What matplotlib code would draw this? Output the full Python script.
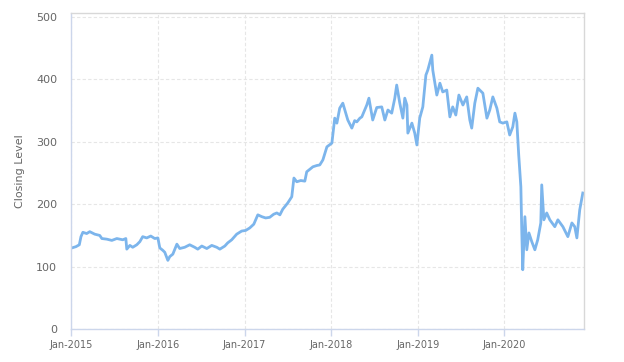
import pandas as pd
import matplotlib
matplotlib.use('Agg')
import matplotlib.pyplot as plt
import matplotlib.dates as mdates

plt.rcParams['font.family'] = ['DejaVu Sans']

# 数据 (从图上读取的收盘价)
dates = [
    '2015-01-05', '2015-01-22', '2015-02-05', '2015-02-12', '2015-02-20', '2015-03-08',
    '2015-03-21', '2015-04-11', '2015-05-02', '2015-05-11', '2015-06-01', '2015-06-22',
    '2015-07-13', '2015-08-07', '2015-08-20', '2015-08-24', '2015-09-06', '2015-09-18',
    '2015-10-05', '2015-10-18', '2015-10-30', '2015-11-16', '2015-12-03', '2015-12-20',
    '2016-01-02', '2016-01-10', '2016-01-23', '2016-01-31', '2016-02-13', '2016-02-21',
    '2016-03-05', '2016-03-22', '2016-04-03', '2016-04-24', '2016-05-15', '2016-06-05',
    '2016-06-18', '2016-07-05', '2016-07-26', '2016-08-16', '2016-09-06', '2016-09-19',
    '2016-10-10', '2016-10-22', '2016-11-08', '2016-11-29', '2016-12-20', '2017-01-06',
    '2017-01-23', '2017-02-09', '2017-02-26', '2017-03-15', '2017-03-31', '2017-04-17',
    '2017-05-04', '2017-05-17', '2017-05-30', '2017-06-11', '2017-07-02', '2017-07-19',
    '2017-07-28', '2017-08-09', '2017-08-26', '2017-09-12', '2017-09-20', '2017-10-03',
    '2017-10-16', '2017-11-01', '2017-11-14', '2017-11-27', '2017-12-14', '2018-01-04',
    '2018-01-16', '2018-01-25', '2018-02-06', '2018-02-19', '2018-03-04', '2018-03-12',
    '2018-03-29', '2018-04-10', '2018-04-19', '2018-05-02', '2018-05-10', '2018-05-23',
    '2018-05-31', '2018-06-09', '2018-06-17', '2018-06-25', '2018-07-12', '2018-08-02',
    '2018-08-15', '2018-08-28', '2018-09-13', '2018-09-26', '2018-10-04', '2018-10-17',
    '2018-10-30', '2018-11-07', '2018-11-16', '2018-11-20', '2018-12-07', '2018-12-19',
    '2018-12-28', '2019-01-09', '2019-01-22', '2019-02-04', '2019-02-12', '2019-03-01',
    '2019-03-05', '2019-03-22', '2019-04-04', '2019-04-16', '2019-05-03', '2019-05-16',
    '2019-05-28', '2019-06-10', '2019-06-23', '2019-07-10', '2019-07-26', '2019-08-08',
    '2019-08-16', '2019-08-29', '2019-09-11', '2019-09-19', '2019-10-02', '2019-10-19',
    '2019-10-31', '2019-11-13', '2019-11-30', '2019-12-12', '2019-12-25', '2020-01-11',
    '2020-01-23', '2020-02-05', '2020-02-14', '2020-02-22', '2020-03-01', '2020-03-10',
    '2020-03-14', '2020-03-18', '2020-03-27', '2020-04-04', '2020-04-13', '2020-04-25',
    '2020-05-08', '2020-05-20', '2020-06-02', '2020-06-06', '2020-06-15', '2020-06-27',
    '2020-07-10', '2020-07-31', '2020-08-13', '2020-09-03', '2020-09-24', '2020-10-11',
    '2020-10-23', '2020-11-01', '2020-11-13', '2020-11-26',
]
closing = [
    130, 132, 135, 148, 155, 153,
    156, 152, 150, 145, 144, 142,
    145, 143, 145, 128, 134, 131,
    135, 140, 148, 146, 149, 145,
    146, 130, 126, 123, 110, 116,
    120, 136, 129, 131, 135, 131,
    128, 133, 129, 134, 131, 128,
    133, 138, 143, 152, 157, 158,
    162, 168, 183, 180, 178, 179,
    184, 186, 183, 192, 202, 212,
    242, 236, 238, 237, 252, 256,
    260, 262, 263, 271, 292, 298,
    338, 330, 354, 362, 345, 335,
    322, 334, 332, 338, 340, 352,
    359, 370, 352, 335, 355, 356,
    335, 351, 346, 370, 391, 362,
    338, 370, 359, 314, 330, 314,
    295, 338, 356, 407, 415, 439,
    415, 375, 394, 380, 383, 340,
    356, 343, 375, 359, 372, 335,
    322, 362, 386, 383, 378, 338,
    351, 372, 354, 332, 330, 332,
    311, 324, 346, 332, 279, 228,
    155, 95, 180, 127, 154, 140,
    127, 143, 170, 231, 175, 186,
    175, 164, 175, 164, 148, 170,
    164, 146, 191, 218,
]
tick_labels = ['Jan-2015', 'Jan-2016', 'Jan-2017', 'Jan-2018', 'Jan-2019', 'Jan-2020']

df = pd.DataFrame({'date': pd.to_datetime(dates), 'close': closing})

fig = plt.figure(figsize=(6.24, 3.62), dpi=100)
ax = fig.add_axes([71/624, 33/362, 513/624, 316.3/362])

ax.plot(df['date'], df['close'], color='#7cb5ec', linewidth=2, solid_joinstyle='round')

# 坐标轴范围
ax.set_xlim(pd.Timestamp('2015-01-01'), pd.Timestamp('2020-12-01'))
ax.set_ylim(0, 507)
ax.set_yticks([0, 100, 200, 300, 400, 500])
ax.set_xticks(pd.to_datetime(['2015-01-01', '2016-01-01', '2017-01-01',
                              '2018-01-01', '2019-01-01', '2020-01-01']))
ax.set_xticklabels(tick_labels)

# 网格和边框
ax.grid(True, color='#e6e6e6', linestyle=(0, (3, 2)), linewidth=0.8)
ax.set_axisbelow(True)
for s in ax.spines.values():
    s.set_color('#d8d8d8')
    s.set_linewidth(1)
ax.spines['bottom'].set_color('#ccd6eb')
ax.spines['left'].set_color('#ccd6eb')

ax.tick_params(axis='y', length=0, pad=10, labelsize=8, labelcolor='#666666')
ax.tick_params(axis='x', length=5, width=1, color='#ccd6eb', pad=3,
               labelsize=7, labelcolor='#666666')

ax.set_ylabel('Closing Level', fontsize=8, color='#666666', labelpad=8)

plt.savefig('out.png', dpi=100)
